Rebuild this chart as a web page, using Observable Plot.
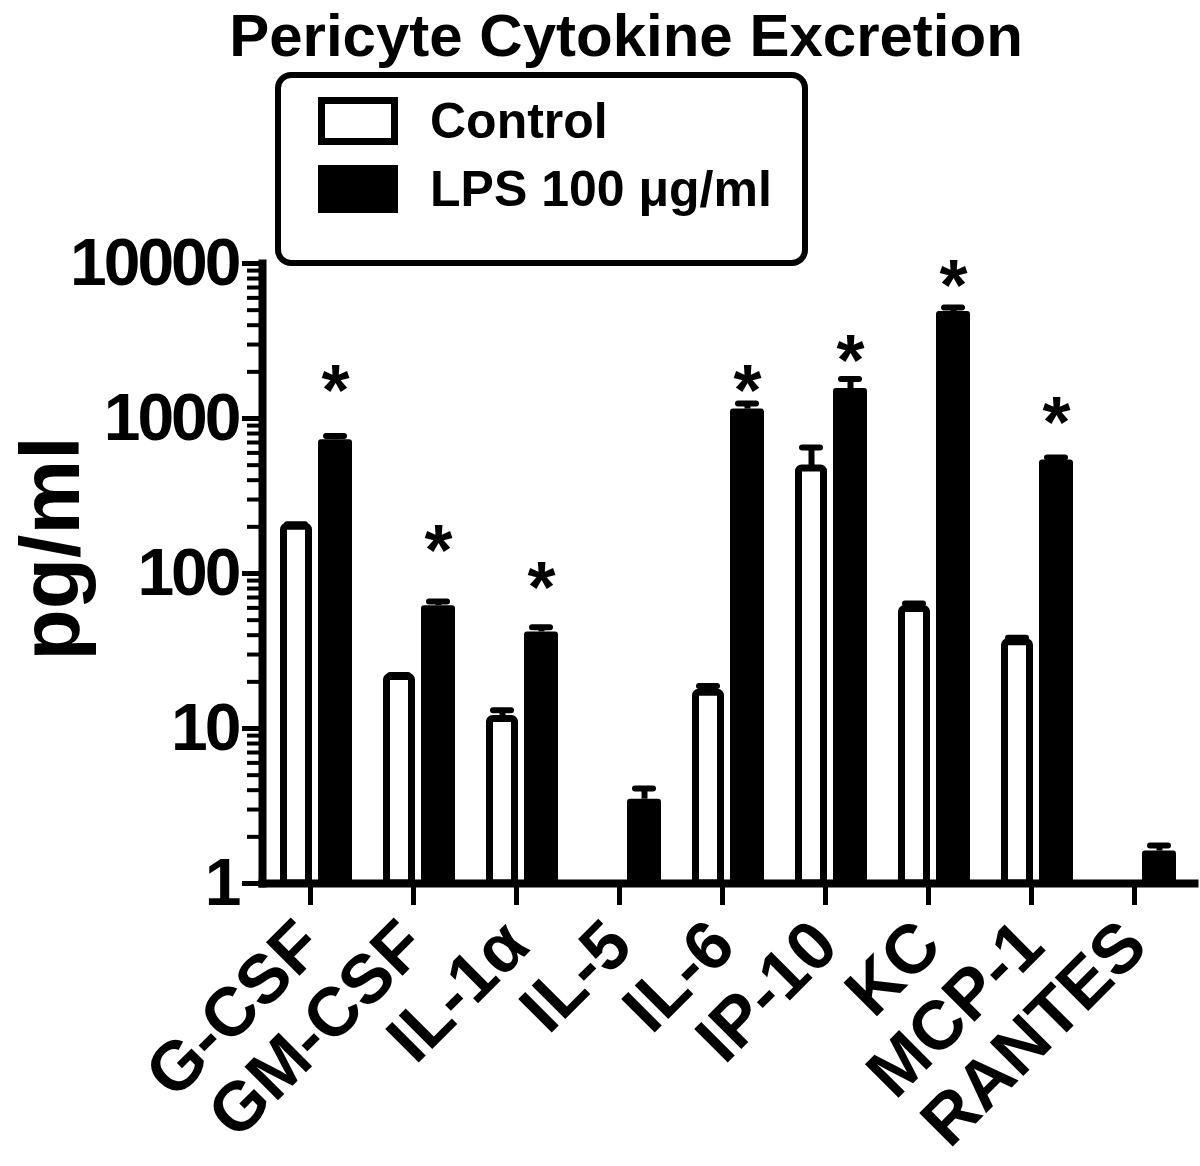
<!DOCTYPE html>
<html>
<head>
<meta charset="utf-8">
<script src="https://cdn.jsdelivr.net/npm/d3@7"></script>
<script src="https://cdn.jsdelivr.net/npm/@observablehq/plot@0.6"></script>
<style>
  html, body { margin: 0; padding: 0; background: #fff; }
  #wrap { position: relative; width: 1200px; height: 1166px; font-family: "Liberation Sans", Arial, sans-serif; font-weight: bold; color: #000; }
  #chart { position: absolute; left: 0; top: 0; }
  #chart g[aria-label="y-axis tick label"] text { letter-spacing: -3px; }
  #title { position: absolute; top: 6px; left: 626px; transform: translateX(-50%); font-size: 60px; line-height: 60px; white-space: nowrap; }
  #legend { position: absolute; left: 275px; top: 72px; width: 533px; height: 194px; border: 6px solid #000; border-radius: 16px; box-sizing: border-box; background: #fff; }
  .sw { position: absolute; left: 37px; width: 80px; height: 48px; box-sizing: border-box; border: 7px solid #000; }
  .lab { position: absolute; left: 149px; font-size: 50px; line-height: 50px; white-space: nowrap; }
</style>
</head>
<body>
<div id="wrap">
  <div id="chart"></div>
  <div id="title"></div>
  <div id="legend"></div>
</div>
<script>
const chartTitle = "Pericyte Cytokine Excretion";
const seriesNames = ["Control", "LPS 100 μg/ml"];
const seriesFills = ["#fff", "#000"];
const categories = ["G-CSF", "GM-CSF", "IL-1α", "IL-5", "IL-6", "IP-10", "KC", "MCP-1", "RANTES"];
const controlMean = [200, 21.5, 11.5, null, 17, 475, 59, 36, null];
const controlErr  = [8, 0.6, 1.6, null, 1.8, 175, 5, 2.5, null];
const lpsMean     = [730, 62, 42, 3.5, 1150, 1560, 4900, 540, 1.62];
const lpsErr      = [40, 4, 3, 0.6, 100, 240, 300, 20, 0.14];
const significant = [true, true, true, false, true, true, true, true, false];
// level (pg/ml) at which each significance star is drawn
const starLevel   = [1480, 137, 80, null, 1480, 2300, 7050, 920, null];
const yMajorTicks = [1, 10, 100, 1000, 10000];
const yLabel = "pg/ml";

const yMinorTicks = [];
for (const dec of [1, 10, 100, 1000]) for (let k = 2; k <= 9; k++) yMinorTicks.push(dec * k);

const controlRows = categories.map((c, i) => ({cytokine: c, mean: controlMean[i], err: controlErr[i]})).filter(d => d.mean != null);
const lpsRows = categories.map((c, i) => ({cytokine: c, mean: lpsMean[i], err: lpsErr[i], sig: significant[i], star: starLevel[i]}));
const starRows = lpsRows.filter(d => d.sig);

const plot = Plot.plot({
  width: 1200,
  height: 1166,
  marginLeft: 262,
  marginRight: 6,
  marginTop: 263,
  marginBottom: 283,
  x: {domain: categories, paddingInner: 0.3, paddingOuter: 0.17, axis: null},
  y: {type: "log", domain: [1, 10000], axis: null},
  style: {fontFamily: "'Liberation Sans', Arial, sans-serif", fontWeight: "bold", color: "#000", background: "#fff", overflow: "visible"},
  marks: [
    Plot.axisY({ticks: yMinorTicks, tickSize: 15, text: null, strokeWidth: 4, label: null}),
    Plot.axisY({ticks: yMajorTicks, tickSize: 20, tickPadding: 4, tickFormat: d => String(d), fontSize: 66, fontWeight: "bold", strokeWidth: 5, label: null}),
    Plot.axisX({tickSize: 22, tickPadding: 28, dx: -6, tickRotate: -45, fontSize: 69, fontWeight: "bold", strokeWidth: 5, label: null}),
    Plot.barY(controlRows, {x: "cytokine", y1: () => 1, y2: "mean", fill: seriesFills[0], stroke: "#000", strokeWidth: 7, insetLeft: 3.5, insetRight: 43.5, rx: 3}),
    Plot.barY(lpsRows, {x: "cytokine", y1: () => 1, y2: "mean", fill: seriesFills[1], insetLeft: 38, insetRight: 0, rx: 3}),
    Plot.ruleX(controlRows, {x: "cytokine", y1: "mean", y2: d => d.mean + d.err, dx: -20, strokeWidth: 6}),
    Plot.tickY(controlRows, {x: "cytokine", y: d => d.mean + d.err, insetLeft: 7, insetRight: 47, strokeWidth: 6, strokeLinecap: "round"}),
    Plot.ruleX(lpsRows, {x: "cytokine", y1: "mean", y2: d => d.mean + d.err, dx: 19, strokeWidth: 6}),
    Plot.tickY(lpsRows, {x: "cytokine", y: d => d.mean + d.err, insetLeft: 46, insetRight: 8, strokeWidth: 6, strokeLinecap: "round"}),
    Plot.text(starRows, {x: "cytokine", y: "star", text: () => "*", dx: 19, fontSize: 72, fontWeight: "bold"}),
    Plot.text([yLabel], {frameAnchor: "left", textAnchor: "middle", rotate: -90, dx: -210, dy: -25, fontSize: 84, fontWeight: "bold"}),
    Plot.frame({anchor: "left", strokeWidth: 8, strokeLinecap: "square"}),
    Plot.frame({anchor: "bottom", strokeWidth: 8, strokeLinecap: "square"})
  ]
});
document.getElementById("chart").appendChild(plot);

document.getElementById("title").textContent = chartTitle;
const legend = document.getElementById("legend");
const swTops = [19, 87];
const labTops = [18, 86];
seriesNames.forEach((name, i) => {
  const sw = document.createElement("div");
  sw.className = "sw";
  sw.style.top = swTops[i] + "px";
  sw.style.background = seriesFills[i];
  legend.appendChild(sw);
  const lab = document.createElement("div");
  lab.className = "lab";
  lab.style.top = labTops[i] + "px";
  lab.textContent = name;
  legend.appendChild(lab);
});
</script>
</body>
</html>
